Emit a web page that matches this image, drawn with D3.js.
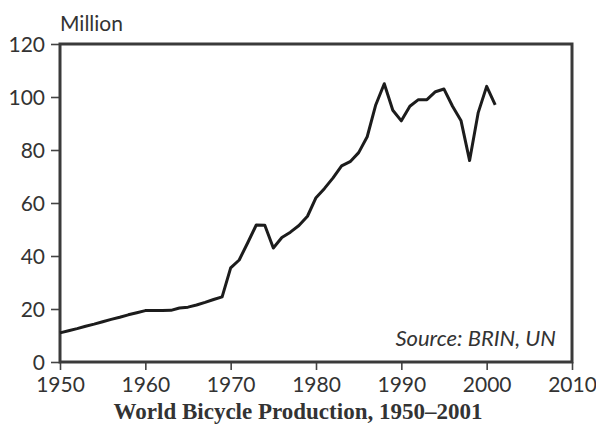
<!DOCTYPE html>
<html><head><meta charset="utf-8">
<script src="https://cdn.jsdelivr.net/npm/d3@7"></script>
<style>
body{margin:0;background:#fff;}
svg{display:block;}
.tick text{font-family:Lato, "DejaVu Sans", sans-serif;font-size:21px;fill:#333;}
</style></head>
<body><svg id="c" width="596" height="436"></svg>
<script>
const years = [1950,1951,1952,1953,1954,1955,1956,1957,1958,1959,1960,1961,1962,1963,1964,1965,1966,1967,1968,1969,1970,1971,1972,1973,1974,1975,1976,1977,1978,1979,1980,1981,1982,1983,1984,1985,1986,1987,1988,1989,1990,1991,1992,1993,1994,1995,1996,1997,1998,1999,2000,2001];
const production = [11,11.8,12.6,13.5,14.3,15.2,16.1,16.9,17.8,18.6,19.4,19.4,19.4,19.5,20.4,20.7,21.5,22.5,23.6,24.6,35.5,38.5,45,51.7,51.6,43,47,49,51.5,55,62,65.5,69.5,74,75.6,79,85,97,105,95,91,96.5,99,99,102,103,96.5,91,76,94,104,97];
const xTicks = [1950,1960,1970,1980,1990,2000,2010];
const yTicks = [0,20,40,60,80,100,120];
const unitLabel = "Million";
const sourceLabel = "Source: BRIN, UN";
const title = "World Bicycle Production, 1950\u20132001";

const svg = d3.select("#c");
const L = 60, R = 572, T = 44, B = 362;
const x = d3.scaleLinear().domain([1950,2010]).range([L,R]);
const y = d3.scaleLinear().domain([0,120]).range([B,T]);

const ax = svg.append("g").attr("transform",`translate(0,${B})`)
  .call(d3.axisBottom(x).tickValues(xTicks).tickFormat(d3.format("d")).tickSize(8).tickPadding(7));
const ay = svg.append("g").attr("transform",`translate(${L},0)`)
  .call(d3.axisLeft(y).tickValues(yTicks).tickSize(9).tickPadding(6));
[ax,ay].forEach(g=>{
  g.select(".domain").remove();
  g.selectAll(".tick line").attr("stroke","#444").attr("stroke-width",1.6);
});
ay.selectAll(".tick text").attr("dy","0.36em");

svg.append("rect").attr("x",L).attr("y",T).attr("width",R-L).attr("height",B-T)
  .attr("fill","none").attr("stroke","#3a3a3a").attr("stroke-width",3);

const line = d3.line().x((d,i)=>x(years[i])).y(d=>y(d));
svg.append("path").datum(production).attr("d",line)
  .attr("fill","none").attr("stroke","#1c1c1c").attr("stroke-width",3).attr("stroke-linejoin","round");

svg.append("text").attr("x",L).attr("y",31).text(unitLabel)
  .attr("font-family","Lato, sans-serif").attr("font-size",21).attr("fill","#333");
svg.append("text").attr("x",556).attr("y",346).attr("text-anchor","end").text(sourceLabel)
  .attr("font-family","Lato, sans-serif").attr("font-style","italic").attr("font-size",22).attr("fill","#333");
svg.append("text").attr("x",298).attr("y",419).attr("text-anchor","middle").text(title)
  .attr("font-family","'Liberation Serif', serif").attr("font-weight","bold").attr("font-size",23).attr("fill","#333");
</script></body></html>
